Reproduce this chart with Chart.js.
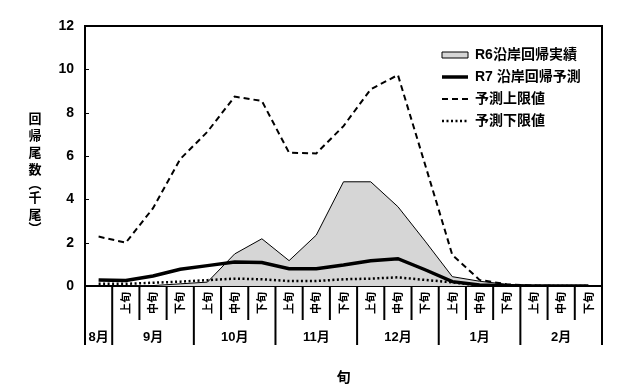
<!DOCTYPE html>
<html>
<head>
<meta charset="utf-8">
<script src="https://cdn.jsdelivr.net/npm/chart.js@4.4.1/dist/chart.umd.min.js"></script>
<style>
  html, body { margin: 0; padding: 0; background: #fff; }
  #wrap { width: 642px; height: 392px; }
</style>
</head>
<body>
<div id="wrap"><canvas id="chart"></canvas></div>
<script>
// 旬ごとのカテゴリ (8月下旬〜2月下旬)
const periods = ['8月', '9月上旬', '9月中旬', '9月下旬', '10月上旬', '10月中旬', '10月下旬',
  '11月上旬', '11月中旬', '11月下旬', '12月上旬', '12月中旬', '12月下旬',
  '1月上旬', '1月中旬', '1月下旬', '2月上旬', '2月中旬', '2月下旬'];
const junLabels = ['', '上旬', '中旬', '下旬', '上旬', '中旬', '下旬', '上旬', '中旬', '下旬',
  '上旬', '中旬', '下旬', '上旬', '中旬', '下旬', '上旬', '中旬', '下旬'];
const months = ['8月', '9月', '10月', '11月', '12月', '1月', '2月'];
const monthSpans = [1, 3, 3, 3, 3, 3, 3];
const yTicks = [0, 2, 4, 6, 8, 10, 12];

// 回帰尾数 (千尾)
const r6Actual = [0, 0, 0.02, 0.1, 0.18, 1.48, 2.18, 1.17, 2.35, 4.81, 4.81, 3.66, 2.07, 0.43, 0.22, 0.08, 0.02, 0, 0];
const r7Forecast = [0.28, 0.25, 0.46, 0.77, 0.94, 1.11, 1.08, 0.8, 0.8, 0.97, 1.17, 1.26, 0.75, 0.2, 0.05, 0.01, 0, 0, 0];
const upperLimit = [2.28, 2.0, 3.59, 5.86, 7.12, 8.74, 8.54, 6.15, 6.12, 7.38, 9.08, 9.74, 5.6, 1.43, 0.28, 0.08, 0.02, 0, 0];
const lowerLimit = [0.1, 0.1, 0.15, 0.2, 0.27, 0.34, 0.31, 0.23, 0.23, 0.31, 0.34, 0.4, 0.28, 0.17, 0.03, 0, 0, 0, 0];

Chart.defaults.font.family = "'Liberation Sans', 'Noto Sans CJK JP', sans-serif";
Chart.defaults.color = '#000';

// 枠・旬/月の表・縦書きの軸タイトル
const tablePlugin = {
  id: 'table',
  afterLayout(chart) {
    // 凡例をプロット内の右上へ
    const lg = chart.legend;
    lg.left = 434;
    lg.top = 40;
    lg.right = chart.chartArea.right;
    lg.bottom = chart.chartArea.bottom;
  },
  afterDraw(chart) {
    const ctx = chart.ctx;
    const area = chart.chartArea;
    const x = chart.scales.x;
    const y = chart.scales.y;
    const step = x.getPixelForValue(1) - x.getPixelForValue(0);
    ctx.save();
    ctx.strokeStyle = '#000';
    ctx.lineWidth = 2;
    // top and right frame
    ctx.beginPath();
    ctx.moveTo(area.left, area.top);
    ctx.lineTo(area.right, area.top);
    ctx.lineTo(area.right, area.bottom + 59);
    ctx.stroke();
    // y inner ticks
    ctx.lineWidth = 1;
    yTicks.forEach(v => {
      const py = Math.round(y.getPixelForValue(v)) + 0.5;
      ctx.beginPath();
      ctx.moveTo(area.left, py);
      ctx.lineTo(area.left + 4, py);
      ctx.stroke();
    });
    // dividers
    ctx.lineWidth = 2;
    const bounds = [0];
    monthSpans.forEach(s => bounds.push(bounds[bounds.length - 1] + s));
    for (let i = 0; i <= periods.length; i++) {
      const px = x.getPixelForValue(i) - step / 2;
      const long = bounds.includes(i);
      ctx.beginPath();
      ctx.moveTo(px, area.bottom);
      ctx.lineTo(px, area.bottom + (long ? 59 : 34));
      ctx.stroke();
    }
    // month labels
    ctx.fillStyle = '#000';
    ctx.font = "bold 13px 'Liberation Sans', 'Noto Sans CJK JP', sans-serif";
    ctx.textAlign = 'center';
    ctx.textBaseline = 'middle';
    months.forEach((m, k) => {
      const mid = (bounds[k] + bounds[k + 1] - 1) / 2;
      ctx.fillText(m, x.getPixelForValue(mid), area.bottom + 51);
    });
    // vertical y title
    const title = '回帰尾数︵千尾︶';
    ctx.font = "bold 13px 'Noto Sans CJK JP', sans-serif";
    let ty = 118;
    for (const ch of title) {
      const paren = ch === '︵' || ch === '︶';
      if (paren) ty -= 3;
      ctx.fillText(ch, 35, ty);
      ty += paren ? 14 : 17;
    }
    ctx.restore();
  }
};

new Chart(document.getElementById('chart'), {
  type: 'line',
  data: {
    labels: periods,
    datasets: [
      {
        label: 'R6沿岸回帰実績',
        data: r6Actual,
        fill: 'origin',
        backgroundColor: '#d6d6d6',
        borderColor: '#000',
        borderWidth: 1,
        pointStyle: 'rect'
      },
      {
        label: 'R7 沿岸回帰予測',
        data: r7Forecast,
        borderColor: '#000',
        backgroundColor: '#000',
        borderWidth: 3.5,
        pointStyle: 'line'
      },
      {
        label: '予測上限値',
        data: upperLimit,
        borderColor: '#000',
        backgroundColor: '#000',
        borderWidth: 2,
        borderDash: [6, 4],
        pointStyle: 'line'
      },
      {
        label: '予測下限値',
        data: lowerLimit,
        borderColor: '#000',
        backgroundColor: '#000',
        borderWidth: 2.5,
        borderDash: [2, 2.5],
        pointStyle: 'line'
      }
    ]
  },
  options: {
    responsive: true,
    maintainAspectRatio: false,
    animation: false,
    layout: { padding: { left: 0, top: 26, right: 40, bottom: 0 } },
    elements: { point: { radius: 0 }, line: { tension: 0 } },
    plugins: {
      filler: { drawTime: 'beforeDatasetsDraw' },
      tooltip: { enabled: false },
      legend: {
        position: 'chartArea',
        align: 'start',
        labels: {
          usePointStyle: true,
          pointStyleWidth: 26,
          boxHeight: 6,
          padding: 8,
          color: '#000',
          font: { size: 14, weight: 'bold' },
          generateLabels: chart => chart.data.datasets.map((ds, i) => ({
            text: ds.label,
            fillStyle: ds.backgroundColor,
            strokeStyle: ds.borderColor,
            lineWidth: ds.borderWidth,
            lineDash: ds.borderDash || [],
            pointStyle: ds.pointStyle,
            fontColor: '#000',
            datasetIndex: i
          }))
        }
      }
    },
    scales: {
      x: {
        offset: true,
        grid: { display: false, drawTicks: false },
        border: { display: true, color: '#000', width: 2 },
        ticks: {
          autoSkip: false,
          minRotation: 90,
          maxRotation: 90,
          padding: 6,
          color: '#000',
          font: { size: 11, weight: 'bold', family: "'Noto Sans CJK JP', sans-serif" },
          callback: (v, i) => junLabels[i]
        },
        title: {
          display: true,
          text: '旬',
          color: '#000',
          font: { size: 14, weight: 'bold', family: "'Noto Sans CJK JP', sans-serif" },
          padding: { top: 0, bottom: 7 }
        },
        afterFit: s => { s.height = 106; }
      },
      y: {
        min: 0,
        max: 12,
        grid: { display: false, drawTicks: false },
        border: { display: true, color: '#000', width: 2 },
        ticks: {
          stepSize: 2,
          padding: 11,
          color: '#000',
          font: { size: 14, weight: 'bold' }
        },
        afterFit: s => { s.width = 85; }
      }
    }
  },
  plugins: [tablePlugin]
});
</script>
</body>
</html>
